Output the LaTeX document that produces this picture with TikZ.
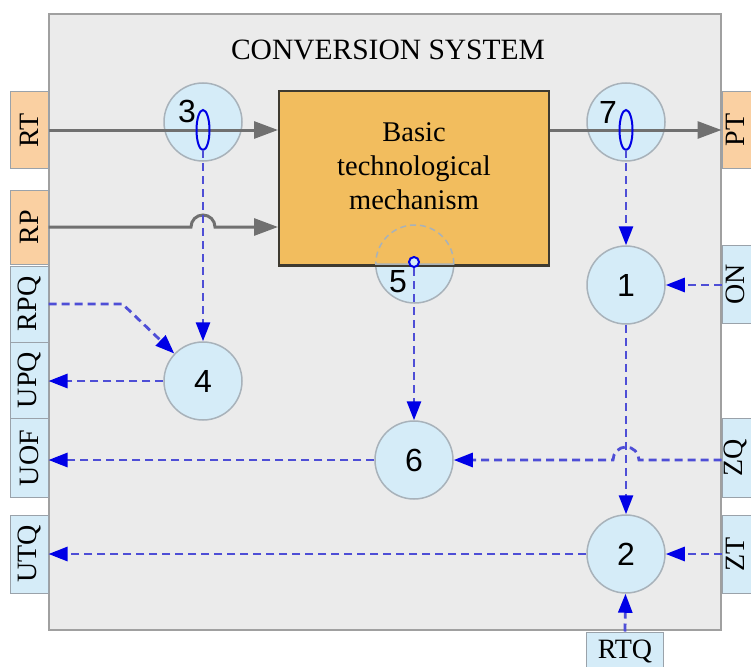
\documentclass[tikz,border=0pt]{standalone}
\usepackage{fontspec}
\usepackage{graphicx}
\setmainfont{Liberation Serif}
\newfontfamily\digitfont{Liberation Sans}
\usetikzlibrary{arrows.meta, calc}

\definecolor{sysgray}{HTML}{EBEBEB}
\definecolor{sysedge}{HTML}{A0A0A0}
\definecolor{mechfill}{HTML}{F2BD5E}
\definecolor{mechedge}{HTML}{3E3A30}
\definecolor{peach}{HTML}{FAD0A2}
\definecolor{paleblue}{HTML}{D5ECF8}
\definecolor{portedge}{HTML}{9AA2AA}
\definecolor{ringedge}{HTML}{A8B2BA}
\definecolor{flowgray}{HTML}{707070}
\definecolor{flowblue}{HTML}{4E4ED6}
\definecolor{tipblue}{HTML}{0000E6}

% rotated port text; the right-hand ports keep it in their visible part
\newcommand{\lport}[1]{\rotatebox{90}{#1}}
\newcommand{\rport}[1]{\rotatebox{90}{\raisebox{0pt}[\height][\dimexpr\depth+11pt\relax]{#1}}}

\tikzset{
  sysbox/.style={draw=sysedge, line width=1.5pt, fill=sysgray, minimum width=672pt, minimum height=616pt, inner sep=0pt},
  mechbox/.style={draw=mechedge, line width=2pt, fill=mechfill, minimum width=270pt, minimum height=174pt, inner sep=0pt},
  port/.style={draw=portedge, line width=1pt, minimum width=38pt, minimum height=76pt, inner sep=0pt, font=\fontsize{28}{28}\selectfont},
  matport/.style={port, fill=peach},
  infport/.style={port, fill=paleblue},
  ring/.style={circle, draw=ringedge, line width=1.5pt, fill=paleblue, minimum size=78pt, inner sep=0pt, font=\digitfont\fontsize{32}{32}\selectfont},
  ringnum/.style={inner sep=0pt, font=\digitfont\fontsize{32}{32}\selectfont},
  matflow/.style={draw=flowgray, line width=3pt, -{Triangle[length=24pt, width=17pt]}},
  infoflow/.style={draw=flowblue, line width=2.8pt, dash pattern=on 8pt off 5pt, -{Triangle[length=19pt, width=14pt, color=tipblue]}},
  tapring/.style={draw=tipblue, line width=2pt},
}

\begin{document}
\begin{tikzpicture}[x=1pt, y=-1pt]
  \useasboundingbox (0,0) rectangle (751,666);
  \clip (0,0) rectangle (751,666);

  % system frame and title
  \node[sysbox] (sys) at (385,322) {};
  \node (title) at (388,50) {\fontsize{29.5}{29.5}\selectfont CONVERSION SYSTEM};

  % input / output ports, left side
  \node[matport] (rt) at (29,130) {\lport{RT}};
  \node[matport, minimum height=74pt] (rp) at (29,227) {\lport{RP}};
  \node[infport] (rpq) at (29,304) {\lport{RPQ}};
  \node[infport] (upq) at (29,380) {\lport{UPQ}};
  \node[infport, minimum height=79pt] (uof) at (29,458) {\lport{UOF}};
  \node[infport, minimum height=78pt] (utq) at (29,554) {\lport{UTQ}};

  % ports, right side and bottom
  \node[matport] (pt) at (741,130) {\rport{PT}};
  \node[infport, minimum height=78pt] (on) at (741,284) {\rport{ON}};
  \node[infport, minimum height=79pt] (zq) at (741,458) {\rport{ZQ}};
  \node[infport, minimum height=78pt] (zt) at (741,554) {\rport{ZT}};
  \node[infport, minimum width=77pt, minimum height=38pt] (rtq) at (625,651) {RTQ};

  % circles
  \node[ring] (c3) at (203,122) {};
  \node[ringnum] (n3) at (187,111) {3};
  \node[ring] (c7) at (626,122) {};
  \node[ringnum] (n7) at (608,112) {7};
  \node[ring] (c1) at (626,285) {1};
  \node[ring] (c4) at (203,381) {4};
  \node[ring] (c6) at (414,460) {6};
  \node[ring] (c2) at (626,554) {2};

  % basic mechanism with half hidden circle 5
  \node[mechbox] (mech) at (414,178) {};
  \node[align=center, font=\fontsize{28.5}{34}\selectfont] (mechtext) at (414,166) {Basic\\technological\\mechanism};
  \node[ring, draw=none, fill=none] (c5) at (414,264) {};
  \draw[fill=paleblue, draw=ringedge, line width=1.5pt] (c5.east) arc (0:180:39) -- cycle;
  \draw[draw=mechedge, line width=2pt] (mech.south west) -- (mech.south east);
  \draw[ringedge, line width=1.5pt, dash pattern=on 6pt off 4pt] (c5.east) arc (0:-180:39);
  \node[ringnum] (n5) at (398,282) {5};

  % material flows
  \draw[matflow] (rt.east) -- (rt.east -| mech.west);
  \draw[matflow] (rp.east) -- ($(c4 |- rp.east)+(-12,0)$) arc (180:360:12) -- (rp.east -| mech.west);
  \draw[matflow] (mech.east |- pt.west) -- (pt.west);

  % measuring taps
  \draw[tapring] (203,130) ellipse (6.5 and 20);
  \coordinate (tap3) at (203,150);
  \draw[tapring] (626,130) ellipse (6.5 and 20);
  \coordinate (tap7) at (626,150);
  \node[circle, draw=tipblue, line width=2pt, fill=paleblue, minimum size=10pt, inner sep=0pt] (p5) at (414,262) {};

  % information flows
  \draw[infoflow] (tap3) -- (c4);
  \draw[infoflow] (rpq.east) -- ++(74,0) -- (c4);
  \draw[infoflow] (c4) -- (c4 -| upq.east);
  \draw[infoflow] (tap7) -- (c1);
  \draw[infoflow] (on.west |- c1) -- (c1);
  \draw[infoflow] (c1) -- (c2);
  \draw[infoflow] (p5) -- (c6);
  \draw[infoflow] (zq.west |- c6) -- ($(c1 |- c6)+(13,0)$) arc (0:-180:13) -- (c6);
  \draw[infoflow] (c6) -- (c6 -| uof.east);
  \draw[infoflow] (zt.west |- c2) -- (c2);
  \draw[infoflow] (rtq.north) -- (c2);
  \draw[infoflow] (c2) -- (c2 -| utq.east);
\end{tikzpicture}
\end{document}
